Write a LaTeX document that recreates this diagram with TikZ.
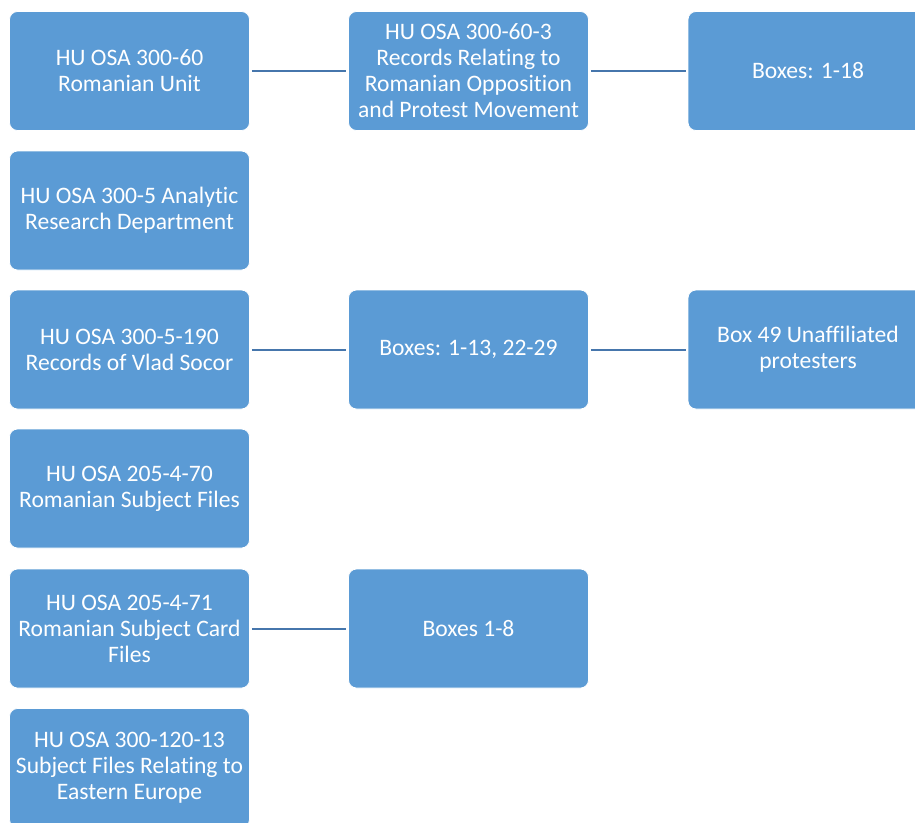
\documentclass[tikz,border=0pt]{standalone}
\usepackage{fontspec}
\setmainfont[Ligatures=CommonOff]{Carlito}
\definecolor{boxfill}{HTML}{5B9BD5}
\definecolor{linkcol}{HTML}{4676AC}
\begin{document}
\begin{tikzpicture}[x=1pt,y=1pt,
  unit/.style={draw=white, line width=0.8pt, fill=boxfill, rounded corners=8pt,
    minimum width=240pt, minimum height=119pt, inner sep=2pt, align=center,
    text=white, font=\fontsize{23.6}{26}\selectfont},
  link/.style={draw=linkcol, line width=2pt, shorten <=2pt, shorten >=2pt}]
\useasboundingbox (0,0) rectangle (915,-822);
\clip (0,0) rectangle (915,-822);
\node[unit] (a1) at (129.5,-71) {HU OSA 300-60\\Romanian Unit};
\node[unit] (a2) at (468.5,-71) {HU OSA 300-60-3\\Records Relating to\\Romanian Opposition\\and Protest Movement};
\node[unit] (a3) at (808,-71) {Boxes: 1-18};
\node[unit] (b1) at (129.5,-210.5) {HU OSA 300-5 Analytic\\Research Department};
\node[unit] (c1) at (129.5,-349.5) {HU OSA 300-5-190\\Records of Vlad Socor};
\node[unit] (c2) at (468.5,-349.5) {Boxes: 1-13, 22-29};
\node[unit] (c3) at (808,-349.5) {Box 49 Unaffiliated\\protesters};
\node[unit] (d1) at (129.5,-488.5) {HU OSA 205-4-70\\Romanian Subject Files};
\node[unit] (e1) at (129.5,-628.5) {HU OSA 205-4-71\\Romanian Subject Card\\Files};
\node[unit] (e2) at (468.5,-628.5) {Boxes 1-8};
\node[unit] (f1) at (129.5,-768) {HU OSA 300-120-13\\Subject Files Relating to\\Eastern Europe};
\draw[link] (a1.east) -- (a2.west);
\draw[link] (a2.east) -- (a3.west);
\draw[link] (c1.east) -- (c2.west);
\draw[link] (c2.east) -- (c3.west);
\draw[link] (e1.east) -- (e2.west);
\end{tikzpicture}
\end{document}
